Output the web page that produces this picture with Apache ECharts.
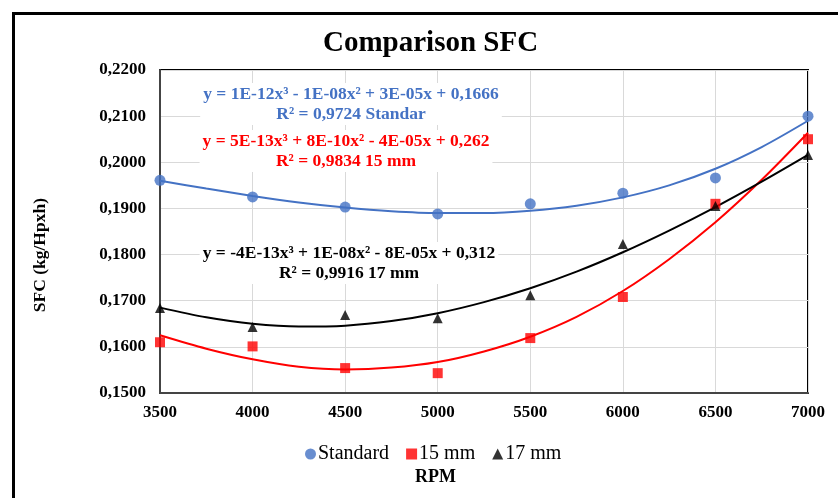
<!DOCTYPE html>
<html>
<head>
<meta charset="utf-8">
<script src="https://cdn.jsdelivr.net/npm/echarts@6/dist/echarts.min.js"></script>
<style>
  html, body { margin: 0; padding: 0; background: #fff; }
  #chart { width: 838px; height: 498px; }
</style>
</head>
<body>
<div id="chart"></div>
<script>
// ====== data ======
var rpm = [3500, 4000, 4500, 5000, 5500, 6000, 6500, 7000];

var sfcStandard = [0.1961, 0.1925, 0.1903, 0.1888, 0.1910, 0.1933, 0.1966, 0.2100];
var sfc15 = [0.1610, 0.1601, 0.1554, 0.1543, 0.1619, 0.1708, 0.1910, 0.2050];
var sfc17 = [0.1684, 0.1643, 0.1669, 0.1662, 0.1712, 0.1823, 0.1905, 0.2016];

// Excel poly(3) trend curves, every 250 rpm
var trendRpm = [3500, 3750, 4000, 4250, 4500, 4750, 5000, 5250, 5500, 5750, 6000, 6250, 6500, 6750, 7000];
var trendStandard = [0.1960, 0.1943, 0.1927, 0.1913, 0.1902, 0.1894, 0.1890, 0.1890, 0.1895, 0.1906, 0.1924, 0.1950, 0.1986, 0.2033, 0.2090];
var trend15 = [0.1625, 0.1596, 0.1573, 0.1557, 0.1551, 0.1555, 0.1567, 0.1590, 0.1622, 0.1665, 0.1721, 0.1790, 0.1870, 0.1962, 0.2064];
var trend17 = [0.1685, 0.1664, 0.1650, 0.1644, 0.1646, 0.1656, 0.1673, 0.1697, 0.1727, 0.1763, 0.1805, 0.1852, 0.1903, 0.1958, 0.2016];

var eqStandard = 'y = 1E-12x³ - 1E-08x² + 3E-05x + 0,1666\nR² = 0,9724 Standar';
var eq15 = 'y = 5E-13x³ + 8E-10x² - 4E-05x + 0,262\nR² = 0,9834 15 mm';
var eq17 = 'y = -4E-13x³ + 1E-08x² - 8E-05x + 0,312\nR² = 0,9916 17 mm';

var yTicks = { min: 0.15, max: 0.22, step: 0.01 };

function pairs(xs, ys) {
    return xs.map(function (x, i) { return [x, ys[i]]; });
}

var serif = 'Liberation Serif';
var labelFont = 'bold 17.5px "Liberation Serif"';

function eqLabel(text, cx, cy, color) {
    return {
        type: 'text', z: 50,
        style: {
            text: text, x: cx, y: cy, font: labelFont, fill: color,
            align: 'center', verticalAlign: 'middle', lineHeight: 20,
            backgroundColor: '#fff', padding: [1, 3]
        }
    };
}

var chart = echarts.init(document.getElementById('chart'));

option = {
    animation: false,
    backgroundColor: '#fff',
    title: {
        text: 'Comparison SFC',
        left: 318,
        top: 24,
        textStyle: { fontFamily: serif, fontWeight: 'bold', fontSize: 29, color: '#000' }
    },
    legend: {
        data: [
            { name: 'Standard', icon: 'circle' },
            { name: '15 mm', icon: 'rect' },
            { name: '17 mm', icon: 'triangle' }
        ],
        left: 300,
        top: 439,
        itemWidth: 11,
        itemHeight: 11,
        itemGap: 17,
        textStyle: { fontFamily: serif, fontSize: 20, color: '#000', padding: [0, 0, 0, -3] }
    },
    grid: {
        left: 160,
        right: 30,
        top: 70,
        bottom: 105,
        show: true,
        borderColor: '#000',
        borderWidth: 2
    },
    xAxis: {
        type: 'value',
        min: 3500,
        max: 7000,
        interval: 500,
        axisLine: { show: true, lineStyle: { color: '#444', width: 2 } },
        axisTick: { show: false },
        splitLine: { show: true, lineStyle: { color: '#d9d9d9', width: 1 } },
        axisLabel: {
            margin: 11,
            fontFamily: serif, fontWeight: 'bold', fontSize: 17, color: '#000',
            formatter: function (v) { return String(v); }
        }
    },
    yAxis: {
        type: 'value',
        min: yTicks.min,
        max: yTicks.max,
        interval: yTicks.step,
        axisLine: { show: true, lineStyle: { color: '#444', width: 2 } },
        axisTick: { show: false },
        splitLine: { show: true, lineStyle: { color: '#d9d9d9', width: 1 } },
        axisLabel: {
            margin: 14,
            fontFamily: serif, fontWeight: 'bold', fontSize: 17, color: '#000',
            formatter: function (v) { return v.toFixed(4).replace('.', ','); }
        }
    },
    graphic: [
        // outer chart frame
        {
            type: 'rect', left: 11, top: 11, silent: true,
            shape: { width: 900, height: 600 },
            style: { fill: 'none', stroke: '#000', lineWidth: 3 }
        },
        {
            type: 'text', left: 31, top: 198, rotation: Math.PI / 2,
            style: { text: 'SFC (kg/Hpxh)', font: 'bold 17.5px "Liberation Serif"', fill: '#000' }
        },
        {
            type: 'text', left: 415, top: 468,
            style: { text: 'RPM', font: 'bold 18px "Liberation Serif"', fill: '#000' }
        },
        // trendline labels
        eqLabel(eqStandard, 351, 104, '#4472C4'),
        eqLabel(eq15, 346, 151, '#FF0000'),
        eqLabel(eq17, 349, 263, '#000')
    ],
    series: [
        {
            name: 'trend Standard', type: 'line', smooth: 0.3, showSymbol: false, silent: true,
            data: pairs(trendRpm, trendStandard),
            lineStyle: { color: '#4472C4', width: 2 }, z: 2
        },
        {
            name: 'trend 15 mm', type: 'line', smooth: 0.3, showSymbol: false, silent: true,
            data: pairs(trendRpm, trend15),
            lineStyle: { color: '#FF0000', width: 2 }, z: 2
        },
        {
            name: 'trend 17 mm', type: 'line', smooth: 0.3, showSymbol: false, silent: true,
            data: pairs(trendRpm, trend17),
            lineStyle: { color: '#000', width: 2 }, z: 2
        },
        {
            name: 'Standard', type: 'scatter', symbol: 'circle', symbolSize: 11,
            data: pairs(rpm, sfcStandard),
            itemStyle: { color: '#4472C4' }, z: 3
        },
        {
            name: '15 mm', type: 'scatter', symbol: 'rect', symbolSize: 10,
            data: pairs(rpm, sfc15),
            itemStyle: { color: '#FF0000' }, z: 3
        },
        {
            name: '17 mm', type: 'scatter', symbol: 'triangle', symbolSize: 10,
            data: pairs(rpm, sfc17),
            itemStyle: { color: '#000' }, z: 3
        }
    ]
};
chart.setOption(option);
</script>
</body>
</html>
